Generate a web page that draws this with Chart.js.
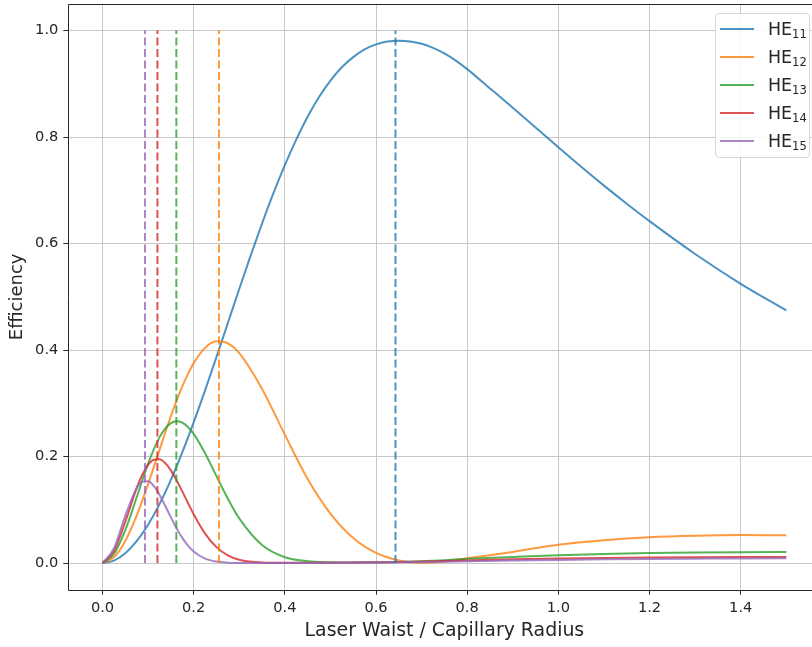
<!DOCTYPE html>
<html>
<head>
<meta charset="utf-8">
<script src="https://cdn.jsdelivr.net/npm/chart.js@4.4.1/dist/chart.umd.min.js"></script>
<style>
html,body{margin:0;padding:0;background:#fff;overflow:hidden;}
#wrap{position:relative;width:830px;height:647px;}
#c{position:absolute;left:0;top:0;}
#legend{position:absolute;left:715px;top:13px;width:95px;height:145px;box-sizing:border-box;border:1px solid #d6d6d6;border-radius:4px;background:rgba(255,255,255,0.85);font-family:'DejaVu Sans';color:#262626;}
.item{position:absolute;left:0;width:100%;height:20px;}
.swatch{position:absolute;left:4px;top:9px;width:34px;height:2px;}
.lbl{position:absolute;left:52px;top:0;font-size:17.4px;line-height:20px;white-space:nowrap;}
.lbl sub{font-size:11.5px;vertical-align:-3px;line-height:0;}
</style>
</head>
<body>
<div id="wrap">
<canvas id="c" width="830" height="647"></canvas>
<div id="legend"></div>
</div>
<script>
// ---- data ----
const xHE11 = [0, 0.025, 0.05, 0.075, 0.1, 0.125, 0.15, 0.175, 0.2, 0.225, 0.25, 0.275, 0.3, 0.325, 0.35, 0.375, 0.4, 0.425, 0.45, 0.475, 0.5, 0.525, 0.55, 0.575, 0.6, 0.625, 0.65, 0.675, 0.7, 0.725, 0.75, 0.775, 0.8, 0.85, 0.9, 0.95, 1.0, 1.05, 1.1, 1.15, 1.2, 1.3, 1.4, 1.5];
const he11 = [0, 0.0046, 0.0184, 0.0411, 0.0721, 0.1108, 0.1564, 0.2080, 0.2644, 0.3245, 0.3871, 0.4509, 0.5147, 0.5774, 0.6377, 0.6947, 0.7472, 0.7952, 0.8382, 0.8752, 0.9062, 0.9312, 0.9502, 0.9647, 0.9742, 0.9794, 0.9812, 0.9797, 0.9752, 0.9677, 0.9572, 0.9437, 0.9277, 0.8915, 0.8551, 0.8181, 0.7808, 0.7442, 0.7089, 0.675, 0.6422, 0.5805, 0.5245, 0.4745];
const xModes = [0, 0.025, 0.05, 0.075, 0.0875, 0.1, 0.1125, 0.125, 0.1375, 0.15, 0.1625, 0.175, 0.1875, 0.2, 0.225, 0.25, 0.275, 0.3, 0.35, 0.4, 0.45, 0.5, 0.55, 0.6, 0.65, 0.7, 0.75, 0.8, 0.9, 1.0, 1.1, 1.2, 1.3, 1.4, 1.5];
const he12 = [0, 0.0107, 0.0416, 0.0892, 0.1177, 0.1483, 0.1802, 0.2127, 0.2448, 0.2758, 0.3049, 0.3317, 0.3553, 0.3755, 0.4042, 0.4164, 0.4126, 0.3943, 0.3271, 0.2412, 0.158, 0.093, 0.047, 0.019, 0.005, 0.0008, 0.003, 0.009, 0.021, 0.0346, 0.043, 0.0485, 0.0513, 0.0525, 0.0522];
const he13 = [0, 0.0166, 0.0618, 0.1236, 0.1559, 0.1866, 0.2137, 0.2361, 0.2527, 0.2629, 0.2665, 0.2639, 0.2556, 0.2427, 0.2063, 0.1633, 0.1208, 0.0839, 0.0338, 0.0109, 0.0035, 0.0015, 0.001, 0.0012, 0.002, 0.0035, 0.0055, 0.008, 0.0115, 0.0148, 0.0172, 0.0188, 0.0198, 0.0204, 0.0207];
const he14 = [0, 0.0221, 0.0777, 0.1408, 0.1664, 0.1846, 0.1942, 0.1951, 0.1879, 0.1742, 0.1557, 0.1347, 0.1129, 0.0917, 0.0554, 0.0300, 0.0146, 0.0064, 0.0012, 0.0004, 0.0004, 0.0006, 0.001, 0.0015, 0.002, 0.003, 0.004, 0.005, 0.007, 0.0085, 0.0097, 0.0105, 0.011, 0.0113, 0.0114];
const he15 = [0, 0.0273, 0.0887, 0.1409, 0.1530, 0.1538, 0.1448, 0.1285, 0.1077, 0.0859, 0.0652, 0.0473, 0.0327, 0.0217, 0.0084, 0.0028, 0.0008, 0.0003, 0.0002, 0.0002, 0.0003, 0.0005, 0.0008, 0.0011, 0.0015, 0.002, 0.0027, 0.0034, 0.0048, 0.006, 0.007, 0.0078, 0.0083, 0.0087, 0.0089];
const modes = ['11', '12', '13', '14', '15'];
const peakX = [0.6427, 0.2555, 0.1620, 0.1205, 0.0933];
const peakLineRange = [0, 1.0];
const xTicks = [0.0, 0.2, 0.4, 0.6, 0.8, 1.0, 1.2, 1.4];
const yTicks = [0.0, 0.2, 0.4, 0.6, 0.8, 1.0];
const xRange = [-0.075, 1.575];
const yRange = [-0.05, 1.05];
const xTitle = 'Laser Waist / Capillary Radius';
const yTitle = 'Efficiency';

// ---- styling ----
const colors = ['rgba(31,119,180,0.8)', 'rgba(255,127,14,0.8)', 'rgba(44,160,44,0.8)', 'rgba(214,39,40,0.8)', 'rgba(148,103,189,0.8)'];
const curves = [[xHE11, he11], [xModes, he12], [xModes, he13], [xModes, he14], [xModes, he15]];
const FONT = 'DejaVu Sans';
const TXT = '#262626';

const datasets = [];
curves.forEach(([xs, ys], i) => {
  datasets.push({
    label: 'HE' + modes[i],
    data: xs.map((x, j) => ({x: x, y: ys[j]})),
    borderColor: colors[i], borderWidth: 2, pointRadius: 0,
    cubicInterpolationMode: 'monotone', fill: false, order: 20 - i
  });
});
peakX.forEach((px, i) => {
  datasets.push({
    label: 'peak HE' + modes[i],
    data: peakLineRange.map(v => ({x: px, y: v})),
    borderColor: colors[i], borderWidth: 2, borderDash: [8, 3.5], pointRadius: 0,
    fill: false, order: 10 - i
  });
});

const frame = {
  id: 'frame',
  afterDatasetsDraw(chart) {
    const {ctx, chartArea: a} = chart;
    ctx.save();
    ctx.strokeStyle = '#262626';
    ctx.lineWidth = 1;
    const l = Math.round(a.left) + 0.5, t = Math.round(a.top) + 0.5, r = Math.round(a.right) + 0.5, b = Math.round(a.bottom) + 0.5;
    ctx.beginPath();
    ctx.moveTo(l, b); ctx.lineTo(l, t); ctx.lineTo(r, t); ctx.lineTo(r, b); ctx.lineTo(l, b);
    ctx.stroke();
    ctx.restore();
  }
};

new Chart(document.getElementById('c'), {
  type: 'line',
  data: {datasets: datasets},
  plugins: [frame],
  options: {
    responsive: false, animation: false, events: [],
    layout: {padding: {top: 4, right: 9.5, left: 0, bottom: 0}},
    plugins: {legend: {display: false}, tooltip: {enabled: false}},
    scales: {
      x: {
        type: 'linear', min: xRange[0], max: xRange[1],
        afterBuildTicks: a => { a.ticks = xTicks.map(v => ({value: v})); },
        afterFit: s => { s.height = 57.3; s.paddingLeft = 0; s.paddingRight = 0; },
        grid: {color: '#c8c8c8', lineWidth: 1, tickColor: '#262626', tickLength: 5, drawTicks: true},
        border: {display: false},
        ticks: {color: TXT, font: {family: FONT, size: 14.6}, padding: 5, maxRotation: 0, autoSkip: false,
                callback: v => Number(v).toFixed(1)},
        title: {display: true, text: xTitle, color: TXT, font: {family: FONT, size: 18.9}, padding: {top: 0, bottom: 5}}
      },
      y: {
        type: 'linear', min: yRange[0], max: yRange[1],
        afterBuildTicks: a => { a.ticks = yTicks.map(v => ({value: v})); },
        afterFit: s => { s.width = 68.3; s.paddingTop = 0; s.paddingBottom = 0; },
        grid: {color: '#c8c8c8', lineWidth: 1, tickColor: '#262626', tickLength: 5, drawTicks: true},
        border: {display: false},
        ticks: {color: TXT, font: {family: FONT, size: 14.6}, padding: 5, autoSkip: false,
                callback: v => Number(v).toFixed(1)},
        title: {display: true, text: yTitle, color: TXT, font: {family: FONT, size: 18}, padding: {top: 7, bottom: 0}}
      }
    }
  }
});

// HTML legend with subscripts
const leg = document.getElementById('legend');
modes.forEach((m, i) => {
  const it = document.createElement('div');
  it.className = 'item';
  it.style.top = (4.7 + 28.1 * i) + 'px';
  it.innerHTML = '<div class="swatch" style="background:' + colors[i] + '"></div><div class="lbl">HE<sub>' + m + '</sub></div>';
  leg.appendChild(it);
});
</script>
</body>
</html>
